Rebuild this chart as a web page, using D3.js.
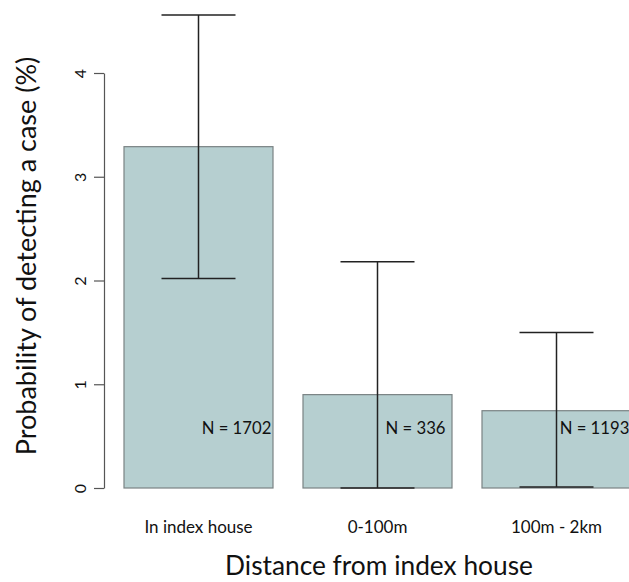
<!DOCTYPE html>
<html lang="en">
<head>
    <meta charset="UTF-8">
    <title>Probability of detecting a case</title>
    <script src="https://cdnjs.cloudflare.com/ajax/libs/d3/7.8.5/d3.min.js"></script>
    <style>
        body {
            margin: 0;
            background: #fff;
            font-family: Lato, "Open Sans", sans-serif;
        }
    </style>
</head>
<body>
    <svg id="chart" width="629" height="582"></svg>
    <script>
        // Data
        const categories = ["In index house", "0-100m", "100m - 2km"];
        const values = [3.29, 0.90, 0.745];
        const lower = [2.02, 0.0, 0.01];
        const upper = [4.56, 2.18, 1.50];
        const counts = ["N = 1702", "N = 336", "N = 1193"];
        const yTicks = [0, 1, 2, 3, 4];

        const svg = d3.select("#chart");

        // Scales
        const x = d3.scaleBand()
            .domain(categories)
            .range([124, 631])
            .paddingInner(30 / 179)
            .paddingOuter(0);

        const y = d3.scaleLinear()
            .domain([0, 4])
            .range([488, 73]);

        const data = categories.map((c, i) => ({
            cat: c, value: values[i], lo: lower[i], hi: upper[i], n: counts[i]
        }));

        // Bars
        svg.append("g")
            .selectAll("rect")
            .data(data)
            .join("rect")
            .attr("x", d => x(d.cat))
            .attr("y", d => y(d.value))
            .attr("width", x.bandwidth())
            .attr("height", d => y(0) - y(d.value))
            .attr("fill", "#b6cfd0")
            .attr("stroke", "#7a8384")
            .attr("stroke-width", 1.2);

        // Error bars
        const cx = d => x(d.cat) + x.bandwidth() / 2;
        const err = svg.append("g")
            .attr("stroke", "#222")
            .attr("stroke-width", 1.5);

        err.selectAll("line.stem")
            .data(data)
            .join("line")
            .attr("class", "stem")
            .attr("x1", cx).attr("x2", cx)
            .attr("y1", d => y(d.lo)).attr("y2", d => y(d.hi));

        err.selectAll("line.capHi")
            .data(data)
            .join("line")
            .attr("class", "capHi")
            .attr("x1", d => cx(d) - 37).attr("x2", d => cx(d) + 37)
            .attr("y1", d => y(d.hi)).attr("y2", d => y(d.hi));

        err.selectAll("line.capLo")
            .data(data)
            .join("line")
            .attr("class", "capLo")
            .attr("x1", d => cx(d) - 37).attr("x2", d => cx(d) + 37)
            .attr("y1", d => y(d.lo)).attr("y2", d => y(d.lo));

        // N labels
        svg.append("g")
            .selectAll("text")
            .data(data)
            .join("text")
            .attr("x", d => cx(d) + 38)
            .attr("y", y(0.58))
            .attr("dy", "0.35em")
            .attr("text-anchor", "middle")
            .attr("font-size", 16.7)
            .attr("fill", "#111")
            .text(d => d.n);

        // Y axis (R style: rotated labels, line only over tick range)
        const yAxis = svg.append("g")
            .attr("transform", "translate(104,0)")
            .call(d3.axisLeft(y).tickValues(yTicks).tickFormat(d3.format("d"))
                .tickSize(10).tickSizeOuter(0));
        yAxis.select(".domain").attr("stroke", "#555").attr("stroke-width", 1.2);
        yAxis.selectAll(".tick line").attr("stroke", "#555").attr("stroke-width", 1.2);
        yAxis.selectAll(".tick text")
            .attr("font-family", "Lato, 'Open Sans', sans-serif")
            .attr("font-size", 16)
            .attr("fill", "#111")
            .attr("text-anchor", "middle")
            .attr("transform", "translate(-24,0) rotate(-90)")
            .attr("x", 0)
            .attr("dy", "0.35em");

        // Category labels
        svg.append("g")
            .selectAll("text")
            .data(data)
            .join("text")
            .attr("x", cx)
            .attr("y", 527)
            .attr("dy", "0.35em")
            .attr("text-anchor", "middle")
            .attr("font-size", 17)
            .attr("fill", "#111")
            .text(d => d.cat);

        // Axis titles
        svg.append("text")
            .attr("x", 379)
            .attr("y", 566)
            .attr("dy", "0.35em")
            .attr("text-anchor", "middle")
            .attr("font-size", 26.3)
            .attr("fill", "#111")
            .text("Distance from index house");

        svg.append("text")
            .attr("transform", "translate(27,256) rotate(-90)")
            .attr("dy", "0.35em")
            .attr("text-anchor", "middle")
            .attr("font-size", 27)
            .attr("fill", "#111")
            .text("Probability of detecting a case (%)");
    </script>
</body>
</html>
